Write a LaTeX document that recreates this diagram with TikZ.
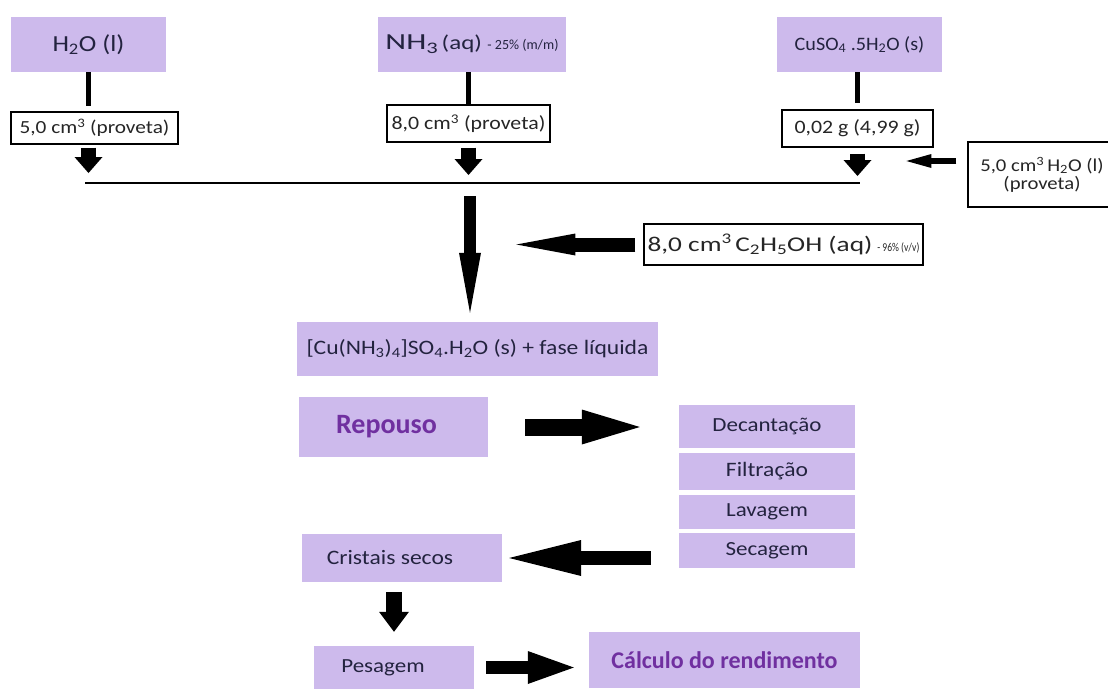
\documentclass[tikz,border=0pt]{standalone}
\usepackage{fontspec}
\setmainfont{Carlito}
\usetikzlibrary{arrows.meta}

\definecolor{lilas}{HTML}{CDBAEC}
\definecolor{roxo}{HTML}{7030A0}
\definecolor{tinta}{HTML}{23233F}

% tamanho + alargamento horizontal
\newcommand{\fsx}[2]{\fontsize{#1}{#1}\selectfont\addfontfeature{FakeStretch=#2}}
\newcommand{\fs}[1]{\fsx{#1}{1.15}}

\tikzset{
  caixa/.style={fill=lilas, text=tinta, inner sep=0pt, font=\fs{21}},
  rotulo/.style={draw, line width=1.2pt, fill=white, text=black!85, inner sep=0pt, align=center, font=\fs{19}},
  destaque/.style={caixa, text=roxo, font=\fontsize{28}{28}\selectfont\bfseries},
  haste/.style={line width=5pt},
  seta/.style n args={3}{line width=#1, -{Triangle[length=#2, width=#3, line width=0pt]}},
}

\begin{document}
\begin{tikzpicture}[x=1pt,y=-1pt]
  \fill[white] (0,0) rectangle (1108,688);
  \useasboundingbox (0,0) rectangle (1108,688);

  % Reagentes
  \node[caixa, minimum width=155pt, minimum height=55pt, font=\fs{23}] (agua) at (88.5,44.5) {H\textsubscript{2}O (l)};
  \node[caixa, minimum width=188pt, minimum height=55pt] (amonia) at (472,44.5)
    {{\fsx{23}{1.4}NH\textsubscript{3}}\,{\fsx{20}{1.25}(aq)} {\fsx{14}{1}- 25\% (m/m)}};
  \node[caixa, minimum width=165pt, minimum height=55pt, font=\fsx{19}{1.06}] (sulfato) at (859.5,44.5)
    {CuSO\textsubscript{4} .5H\textsubscript{2}O (s)};

  % Quantidades
  \node[rotulo, minimum width=167pt, minimum height=32pt, font=\fs{18.5}] (v1) at (94.5,128) {5,0 cm\textsuperscript{3} (proveta)};
  \node[rotulo, minimum width=163pt, minimum height=37pt] (v2) at (468.5,123.5) {8,0 cm\textsuperscript{3} (proveta)};
  \node[rotulo, minimum width=151pt, minimum height=37pt] (v3) at (857.5,128.5) {0,02 g (4,99 g)};
  \node[rotulo, minimum width=148pt, minimum height=65pt, font=\fs{18}] (v4) at (1042,174.5)
    {5,0 cm\textsuperscript{3}\,H\textsubscript{2}O (l)\\(proveta)};
  \node[rotulo, minimum width=279pt, minimum height=41pt] (etanol) at (783.5,244.5)
    {{\fsx{21}{1.3}8,0 cm\textsuperscript{3}\,C\textsubscript{2}H\textsubscript{5}OH (aq)} {\fsx{12}{0.8}- 96\% (v/v)}};

  % Mistura
  \coordinate (esq) at (85,183);
  \coordinate (dir) at (860,183);
  \coordinate (centro) at (470,183);
  \draw[line width=1.5pt] (esq) -- (dir);

  \draw[haste, shorten >=5pt] (agua.south) -- (agua.south |- v1.north);
  \draw[haste] (v2.north |- amonia.south) -- (v2.north);
  \draw[haste, shorten >=6pt] (v3.north |- sulfato.south) -- (v3.north);

  \draw[seta={15pt}{16pt}{28pt}, shorten <=3pt, shorten >=10pt] (agua.south |- v1.south) -- (agua.south |- esq);
  \draw[seta={15pt}{16pt}{28pt}, shorten <=5pt, shorten >=8pt] (v2.south) -- (v2.south |- esq);
  \draw[seta={15pt}{16pt}{28pt}, shorten <=6pt, shorten >=7pt] (v3.south) -- (v3.south |- dir);
  \draw[seta={6pt}{25pt}{14pt}, shorten <=11pt] ([yshift=13.5pt]v4.west) -- ++(-61,0);

  % Produto
  \node[caixa, minimum width=361pt, minimum height=54pt, font=\fs{20.5}] (produto) at (477.5,349)
    {[Cu(NH\textsubscript{3})\textsubscript{4}]SO\textsubscript{4}.H\textsubscript{2}O (s) + fase líquida};
  \draw[seta={12pt}{60pt}{22pt}, shorten <=13pt, shorten >=9pt] (centro) -- (centro |- produto.north);
  \draw[seta={14pt}{59pt}{22pt}, shorten <=8pt] (etanol.west) -- ++(-127,0);

  % Tratamento
  \node[destaque, minimum width=189pt, minimum height=60pt] (repouso) at (393.5,427) {Repouso\hspace*{14pt}};
  \node[caixa, minimum width=176pt, minimum height=43pt, font=\fs{20}] (decant) at (767,426.5) {Decantação};
  \node[caixa, minimum width=176pt, minimum height=37pt, font=\fs{20.5}] (filtr) at (767,471.5) {Filtração};
  \node[caixa, minimum width=176pt, minimum height=34pt, font=\fs{20}] (lavag) at (767,512) {Lavagem};
  \node[caixa, minimum width=176pt, minimum height=35pt, font=\fs{20}] (secag) at (767,550.5) {Secagem};
  \node[caixa, minimum width=200pt, minimum height=48pt, font=\fs{20.5}] (cristais) at (402,558) {Cristais secos\hspace*{24pt}};
  \node[caixa, minimum width=160pt, minimum height=43pt, font=\fs{20}] (pesagem) at (394,667.5) {Pesagem\hspace*{22pt}};
  \node[destaque, minimum width=271pt, minimum height=56pt, font=\fontsize{24}{24}\selectfont\bfseries] (calculo) at (724.5,660) {Cálculo do rendimento};

  \draw[seta={17pt}{58pt}{35pt}, shorten <=37pt, shorten >=39pt] (repouso.east) -- (repouso.east -| decant.west);
  \draw[seta={14pt}{72pt}{36pt}, shorten <=28pt, shorten >=7pt] (secag.west |- cristais.east) -- (cristais.east);
  \draw[seta={16pt}{20pt}{30pt}, shorten <=10pt, shorten >=14pt] (cristais.south -| pesagem.north) -- (pesagem.north);
  \draw[seta={13pt}{46pt}{33pt}, shorten <=12pt, shorten >=15pt] (pesagem.east) -- (pesagem.east -| calculo.west);
\end{tikzpicture}
\end{document}
